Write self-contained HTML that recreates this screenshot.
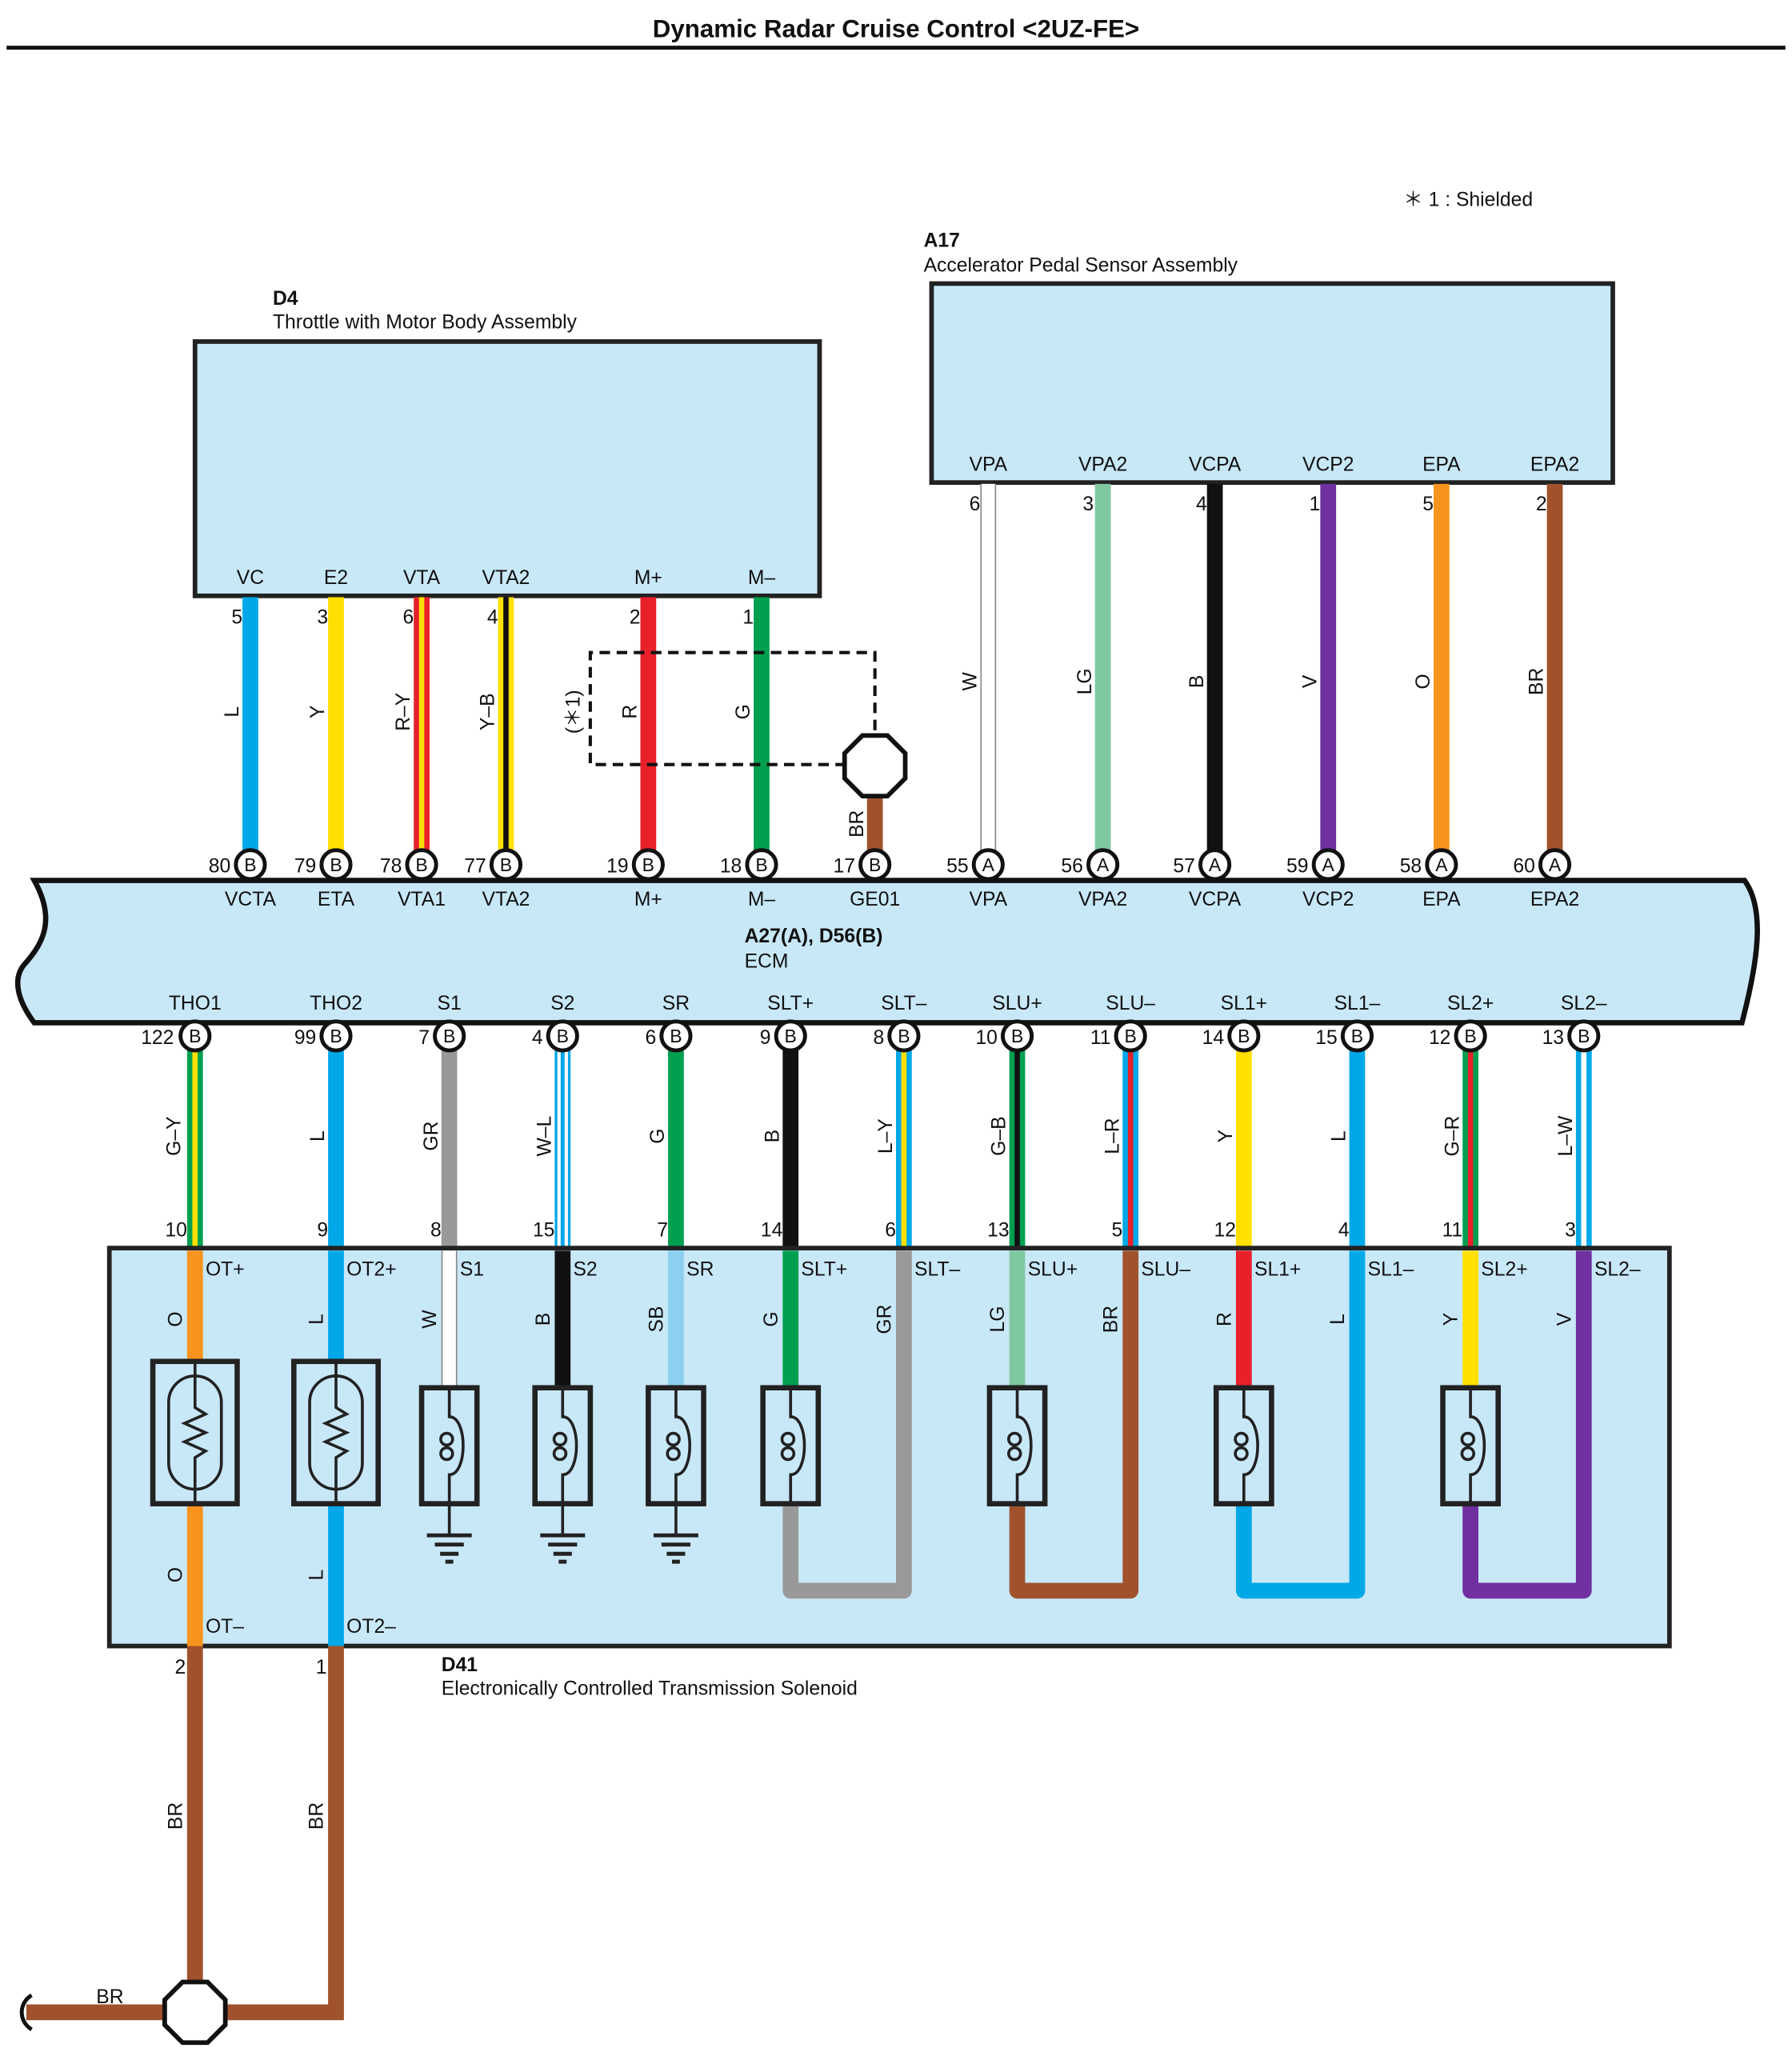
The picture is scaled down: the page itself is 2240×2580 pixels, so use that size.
<!DOCTYPE html>
<html><head><meta charset="utf-8"><style>
html,body{margin:0;padding:0;background:#fff}
svg{display:block}
text{font-family:"Liberation Sans",sans-serif;fill:#111}
</style></head><body>
<svg width="2240" height="2580" viewBox="0 0 1360 1566" xmlns="http://www.w3.org/2000/svg">
<defs>
<g id="sol">
<rect x="-21" y="0" width="42" height="88" fill="#c8e8f8" stroke="#222" stroke-width="4"/>
<path d="M0,0 V22 C14,22 14,66 0,66 V88" fill="none" stroke="#222" stroke-width="2.2"/>
<circle cx="-2" cy="39" r="4.5" fill="none" stroke="#222" stroke-width="2.2"/>
<circle cx="-2" cy="50" r="4.5" fill="none" stroke="#222" stroke-width="2.2"/>
</g>
<g id="gnd">
<line x1="0" y1="88" x2="0" y2="112" stroke="#222" stroke-width="2.2"/>
<line x1="-17" y1="112" x2="17" y2="112" stroke="#222" stroke-width="3"/>
<line x1="-11" y1="119" x2="11" y2="119" stroke="#222" stroke-width="3"/>
<line x1="-7" y1="126" x2="7" y2="126" stroke="#222" stroke-width="3"/>
<line x1="-3" y1="132" x2="3" y2="132" stroke="#222" stroke-width="3"/>
</g>
<g id="thm">
<rect x="-32" y="0" width="64" height="108" fill="#c8e8f8" stroke="#222" stroke-width="4"/>
<rect x="-20" y="11" width="40" height="86" rx="20" ry="20" fill="none" stroke="#222" stroke-width="2.2"/>
<path d="M0,0 V35 L8,40 L-8,47 L8,54 L-8,61 L8,68 L0,73 V108" fill="none" stroke="#222" stroke-width="2.2"/>
</g>
</defs>

<text x="680" y="28" text-anchor="middle" font-size="19" font-weight="bold">Dynamic Radar Cruise Control &lt;2UZ-FE&gt;</text>
<line x1="5" y1="36" x2="1355" y2="36" stroke="#111" stroke-width="3"/>
<text x="1065" y="156" font-size="15">＊ 1 : Shielded</text>

<!-- D4 -->
<text x="207" y="231" font-size="15" font-weight="bold">D4</text>
<text x="207" y="249" font-size="15">Throttle with Motor Body Assembly</text>
<rect x="148" y="259" width="474" height="193" fill="#c8e8f8" stroke="#222" stroke-width="3.5"/>
<g font-size="15" text-anchor="middle">
<text x="190" y="443">VC</text><text x="255" y="443">E2</text><text x="320" y="443">VTA</text><text x="384" y="443">VTA2</text><text x="492" y="443">M+</text><text x="578" y="443">M–</text>
</g>
<g font-size="15" text-anchor="end">
<text x="184" y="473">5</text><text x="249" y="473">3</text><text x="314" y="473">6</text><text x="378" y="473">4</text><text x="486" y="473">2</text><text x="572" y="473">1</text>
</g>
<!-- D4 wires -->
<g stroke-width="12">
<line x1="190" y1="453" x2="190" y2="650" stroke="#00a8e8"/>
<line x1="255" y1="453" x2="255" y2="650" stroke="#ffe000"/>
<line x1="320" y1="453" x2="320" y2="650" stroke="#e8202a"/>
<line x1="384" y1="453" x2="384" y2="650" stroke="#ffe000"/>
<line x1="492" y1="453" x2="492" y2="650" stroke="#e8202a"/>
<line x1="578" y1="453" x2="578" y2="650" stroke="#00a050"/>
</g>
<line x1="320" y1="453" x2="320" y2="650" stroke="#ffe000" stroke-width="4"/>
<line x1="384" y1="453" x2="384" y2="650" stroke="#111" stroke-width="4"/>
<g font-size="15" text-anchor="middle">
<text transform="translate(181,540) rotate(-90)">L</text>
<text transform="translate(246,540) rotate(-90)">Y</text>
<text transform="translate(311,540) rotate(-90)">R–Y</text>
<text transform="translate(375,540) rotate(-90)">Y–B</text>
<text transform="translate(483,540) rotate(-90)">R</text>
<text transform="translate(569,540) rotate(-90)">G</text>
<text transform="translate(440,540) rotate(-90)">(＊1)</text>
<text transform="translate(655,625) rotate(-90)">BR</text>
</g>
<path d="M642,580 H448 V495 H664 V558" fill="none" stroke="#111" stroke-width="2.5" stroke-dasharray="8,5"/>
<line x1="664" y1="600" x2="664" y2="650" stroke="#a0522d" stroke-width="12"/>
<polygon points="654.5,558 673.5,558 687,571.5 687,590.5 673.5,604 654.5,604 641,590.5 641,571.5" fill="#fff" stroke="#111" stroke-width="3.5"/>

<!-- A17 -->
<text x="701" y="187" font-size="15" font-weight="bold">A17</text>
<text x="701" y="206" font-size="15">Accelerator Pedal Sensor Assembly</text>
<rect x="707" y="215" width="517" height="151" fill="#c8e8f8" stroke="#222" stroke-width="3.5"/>
<g font-size="15" text-anchor="middle">
<text x="750" y="357">VPA</text><text x="837" y="357">VPA2</text><text x="922" y="357">VCPA</text><text x="1008" y="357">VCP2</text><text x="1094" y="357">EPA</text><text x="1180" y="357">EPA2</text>
</g>
<g font-size="15" text-anchor="end">
<text x="744" y="387">6</text><text x="830" y="387">3</text><text x="916" y="387">4</text><text x="1002" y="387">1</text><text x="1088" y="387">5</text><text x="1174" y="387">2</text>
</g>
<g stroke-width="12">
<line x1="750" y1="367" x2="750" y2="650" stroke="#888"/>
<line x1="837" y1="367" x2="837" y2="650" stroke="#80c8a0"/>
<line x1="922" y1="367" x2="922" y2="650" stroke="#111"/>
<line x1="1008" y1="367" x2="1008" y2="650" stroke="#7030a0"/>
<line x1="1094" y1="367" x2="1094" y2="650" stroke="#f7941d"/>
<line x1="1180" y1="367" x2="1180" y2="650" stroke="#a0522d"/>
</g>
<line x1="750" y1="367" x2="750" y2="650" stroke="#fff" stroke-width="10"/>
<g font-size="15" text-anchor="middle">
<text transform="translate(741,517) rotate(-90)">W</text>
<text transform="translate(828,517) rotate(-90)">LG</text>
<text transform="translate(913,517) rotate(-90)">B</text>
<text transform="translate(999,517) rotate(-90)">V</text>
<text transform="translate(1085,517) rotate(-90)">O</text>
<text transform="translate(1171,517) rotate(-90)">BR</text>
</g>

<!-- ECM -->
<path d="M26,668 H1324 C1340,690 1334,730 1322,776 H26 C14,760 8,742 20,730 C30,718 44,700 26,668 Z" fill="#c8e8f8" stroke="#111" stroke-width="4"/>
<g font-size="15" text-anchor="middle">
<text x="190" y="687">VCTA</text><text x="255" y="687">ETA</text><text x="320" y="687">VTA1</text><text x="384" y="687">VTA2</text><text x="492" y="687">M+</text><text x="578" y="687">M–</text><text x="664" y="687">GE01</text>
<text x="750" y="687">VPA</text><text x="837" y="687">VPA2</text><text x="922" y="687">VCPA</text><text x="1008" y="687">VCP2</text><text x="1094" y="687">EPA</text><text x="1180" y="687">EPA2</text>
<text x="148" y="766">THO1</text><text x="255" y="766">THO2</text><text x="341" y="766">S1</text><text x="427" y="766">S2</text><text x="513" y="766">SR</text><text x="600" y="766">SLT+</text><text x="686" y="766">SLT–</text><text x="772" y="766">SLU+</text><text x="858" y="766">SLU–</text><text x="944" y="766">SL1+</text><text x="1030" y="766">SL1–</text><text x="1116" y="766">SL2+</text><text x="1202" y="766">SL2–</text>
</g>
<text x="565" y="715" font-size="15" font-weight="bold">A27(A), D56(B)</text>
<text x="565" y="734" font-size="15">ECM</text>

<!-- ECM bottom wires -->
<g stroke-width="12">
<line x1="148" y1="790" x2="148" y2="1033" stroke="#00a050"/>
<line x1="255" y1="790" x2="255" y2="1033" stroke="#00a8e8"/>
<line x1="341" y1="790" x2="341" y2="947" stroke="#999"/>
<line x1="427" y1="790" x2="427" y2="947" stroke="#00a8e8"/>
<line x1="513" y1="790" x2="513" y2="947" stroke="#00a050"/>
<line x1="600" y1="790" x2="600" y2="947" stroke="#111"/>
<line x1="686" y1="790" x2="686" y2="947" stroke="#00a8e8"/>
<line x1="772" y1="790" x2="772" y2="947" stroke="#00a050"/>
<line x1="858" y1="790" x2="858" y2="947" stroke="#00a8e8"/>
<line x1="944" y1="790" x2="944" y2="947" stroke="#ffe000"/>
<line x1="1030" y1="790" x2="1030" y2="947" stroke="#00a8e8"/>
<line x1="1116" y1="790" x2="1116" y2="947" stroke="#00a050"/>
<line x1="1202" y1="790" x2="1202" y2="947" stroke="#00a8e8"/>
</g>
<line x1="427" y1="790" x2="427" y2="947" stroke="#fff" stroke-width="8"/>
<line x1="427" y1="790" x2="427" y2="947" stroke="#00a8e8" stroke-width="3"/>
<g stroke-width="4">
<line x1="148" y1="790" x2="148" y2="947" stroke="#ffe000"/>
<line x1="686" y1="790" x2="686" y2="947" stroke="#ffe000"/>
<line x1="772" y1="790" x2="772" y2="947" stroke="#111"/>
<line x1="858" y1="790" x2="858" y2="947" stroke="#e8202a"/>
<line x1="1116" y1="790" x2="1116" y2="947" stroke="#e8202a"/>
<line x1="1202" y1="790" x2="1202" y2="947" stroke="#fff"/>
</g>
<g font-size="15" text-anchor="middle">
<text transform="translate(137,862) rotate(-90)">G–Y</text>
<text transform="translate(246,862) rotate(-90)">L</text>
<text transform="translate(332,862) rotate(-90)">GR</text>
<text transform="translate(418,862) rotate(-90)">W–L</text>
<text transform="translate(504,862) rotate(-90)">G</text>
<text transform="translate(591,862) rotate(-90)">B</text>
<text transform="translate(677,862) rotate(-90)">L–Y</text>
<text transform="translate(763,862) rotate(-90)">G–B</text>
<text transform="translate(849,862) rotate(-90)">L–R</text>
<text transform="translate(935,862) rotate(-90)">Y</text>
<text transform="translate(1021,862) rotate(-90)">L</text>
<text transform="translate(1107,862) rotate(-90)">G–R</text>
<text transform="translate(1193,862) rotate(-90)">L–W</text>
</g>
<g font-size="15" text-anchor="end">
<text x="142" y="938">10</text><text x="249" y="938">9</text><text x="335" y="938">8</text><text x="421" y="938">15</text><text x="507" y="938">7</text><text x="594" y="938">14</text><text x="680" y="938">6</text><text x="766" y="938">13</text><text x="852" y="938">5</text><text x="938" y="938">12</text><text x="1024" y="938">4</text><text x="1110" y="938">11</text><text x="1196" y="938">3</text>
</g>

<!-- connector circles -->
<g fill="#fff" stroke="#111" stroke-width="3">
<circle cx="190" cy="656" r="11"/><circle cx="255" cy="656" r="11"/><circle cx="320" cy="656" r="11"/><circle cx="384" cy="656" r="11"/><circle cx="492" cy="656" r="11"/><circle cx="578" cy="656" r="11"/><circle cx="664" cy="656" r="11"/>
<circle cx="750" cy="656" r="11"/><circle cx="837" cy="656" r="11"/><circle cx="922" cy="656" r="11"/><circle cx="1008" cy="656" r="11"/><circle cx="1094" cy="656" r="11"/><circle cx="1180" cy="656" r="11"/>
<circle cx="148" cy="786" r="11"/><circle cx="255" cy="786" r="11"/><circle cx="341" cy="786" r="11"/><circle cx="427" cy="786" r="11"/><circle cx="513" cy="786" r="11"/><circle cx="600" cy="786" r="11"/><circle cx="686" cy="786" r="11"/><circle cx="772" cy="786" r="11"/><circle cx="858" cy="786" r="11"/><circle cx="944" cy="786" r="11"/><circle cx="1030" cy="786" r="11"/><circle cx="1116" cy="786" r="11"/><circle cx="1202" cy="786" r="11"/>
</g>
<g font-size="14" text-anchor="middle">
<text x="190" y="661">B</text><text x="255" y="661">B</text><text x="320" y="661">B</text><text x="384" y="661">B</text><text x="492" y="661">B</text><text x="578" y="661">B</text><text x="664" y="661">B</text>
<text x="750" y="661">A</text><text x="837" y="661">A</text><text x="922" y="661">A</text><text x="1008" y="661">A</text><text x="1094" y="661">A</text><text x="1180" y="661">A</text>
<text x="148" y="791">B</text><text x="255" y="791">B</text><text x="341" y="791">B</text><text x="427" y="791">B</text><text x="513" y="791">B</text><text x="600" y="791">B</text><text x="686" y="791">B</text><text x="772" y="791">B</text><text x="858" y="791">B</text><text x="944" y="791">B</text><text x="1030" y="791">B</text><text x="1116" y="791">B</text><text x="1202" y="791">B</text>
</g>
<g font-size="15" text-anchor="end">
<text x="175" y="662">80</text><text x="240" y="662">79</text><text x="305" y="662">78</text><text x="369" y="662">77</text><text x="477" y="662">19</text><text x="563" y="662">18</text><text x="649" y="662">17</text>
<text x="735" y="662">55</text><text x="822" y="662">56</text><text x="907" y="662">57</text><text x="993" y="662">59</text><text x="1079" y="662">58</text><text x="1165" y="662">60</text>
<text x="132" y="792">122</text><text x="240" y="792">99</text><text x="326" y="792">7</text><text x="412" y="792">4</text><text x="498" y="792">6</text><text x="585" y="792">9</text><text x="671" y="792">8</text><text x="757" y="792">10</text><text x="843" y="792">11</text><text x="929" y="792">14</text><text x="1015" y="792">15</text><text x="1101" y="792">12</text><text x="1187" y="792">13</text>
</g>

<!-- D41 box -->
<rect x="83" y="947" width="1184" height="302" fill="#c8e8f8" stroke="#222" stroke-width="3.5"/>
<!-- external brown -->
<path d="M148,1249 V1527 M255,1249 V1527 H20" fill="none" stroke="#a0522d" stroke-width="12"/>
<path d="M24,1514 C14,1520 14,1534 24,1540" fill="none" stroke="#111" stroke-width="3"/>
<!-- internal wires -->
<g stroke-width="12" fill="none">
<line x1="148" y1="949" x2="148" y2="1033" stroke="#f7941d"/>
<line x1="148" y1="1141" x2="148" y2="1249" stroke="#f7941d"/>
<line x1="255" y1="949" x2="255" y2="1033" stroke="#00a8e8"/>
<line x1="255" y1="1141" x2="255" y2="1249" stroke="#00a8e8"/>
<line x1="341" y1="949" x2="341" y2="1053" stroke="#888"/>
<line x1="427" y1="949" x2="427" y2="1053" stroke="#111"/>
<line x1="513" y1="949" x2="513" y2="1053" stroke="#8cd0f0"/>
<line x1="600" y1="949" x2="600" y2="1053" stroke="#00a050"/>
<path d="M600,1141 V1207 H686 V949" stroke="#999" stroke-linejoin="round"/>
<line x1="772" y1="949" x2="772" y2="1053" stroke="#80c8a0"/>
<path d="M772,1141 V1207 H858 V949" stroke="#a0522d" stroke-linejoin="round"/>
<line x1="944" y1="949" x2="944" y2="1053" stroke="#e8202a"/>
<path d="M944,1141 V1207 H1030 V949" stroke="#00a8e8" stroke-linejoin="round"/>
<line x1="1116" y1="949" x2="1116" y2="1053" stroke="#ffe000"/>
<path d="M1116,1141 V1207 H1202 V949" stroke="#7030a0" stroke-linejoin="round"/>
</g>
<line x1="341" y1="949" x2="341" y2="1053" stroke="#fff" stroke-width="10"/>
<polygon points="138.5,1504 157.5,1504 171,1517.5 171,1536.5 157.5,1550 138.5,1550 125,1536.5 125,1517.5" fill="#fff" stroke="#111" stroke-width="3.5"/>
<use href="#thm" x="148" y="1033"/>
<use href="#thm" x="255" y="1033"/>
<use href="#sol" x="341" y="1053"/><use href="#gnd" x="341" y="1053"/>
<use href="#sol" x="427" y="1053"/><use href="#gnd" x="427" y="1053"/>
<use href="#sol" x="513" y="1053"/><use href="#gnd" x="513" y="1053"/>
<use href="#sol" x="600" y="1053"/>
<use href="#sol" x="772" y="1053"/>
<use href="#sol" x="944" y="1053"/>
<use href="#sol" x="1116" y="1053"/>
<g font-size="15">
<text x="156" y="968">OT+</text><text x="263" y="968">OT2+</text><text x="349" y="968">S1</text><text x="435" y="968">S2</text><text x="521" y="968">SR</text><text x="608" y="968">SLT+</text><text x="694" y="968">SLT–</text><text x="780" y="968">SLU+</text><text x="866" y="968">SLU–</text><text x="952" y="968">SL1+</text><text x="1038" y="968">SL1–</text><text x="1124" y="968">SL2+</text><text x="1210" y="968">SL2–</text>
<text x="156" y="1239">OT–</text><text x="263" y="1239">OT2–</text>
</g>
<g font-size="15" text-anchor="middle">
<text transform="translate(138,1001) rotate(-90)">O</text>
<text transform="translate(245,1001) rotate(-90)">L</text>
<text transform="translate(331,1001) rotate(-90)">W</text>
<text transform="translate(417,1001) rotate(-90)">B</text>
<text transform="translate(503,1001) rotate(-90)">SB</text>
<text transform="translate(590,1001) rotate(-90)">G</text>
<text transform="translate(676,1001) rotate(-90)">GR</text>
<text transform="translate(762,1001) rotate(-90)">LG</text>
<text transform="translate(848,1001) rotate(-90)">BR</text>
<text transform="translate(934,1001) rotate(-90)">R</text>
<text transform="translate(1020,1001) rotate(-90)">L</text>
<text transform="translate(1106,1001) rotate(-90)">Y</text>
<text transform="translate(1192,1001) rotate(-90)">V</text>
<text transform="translate(138,1195) rotate(-90)">O</text>
<text transform="translate(245,1195) rotate(-90)">L</text>
<text transform="translate(138,1378) rotate(-90)">BR</text>
<text transform="translate(245,1378) rotate(-90)">BR</text>
</g>
<g font-size="15" text-anchor="end">
<text x="141" y="1270">2</text><text x="248" y="1270">1</text>
</g>
<text x="73" y="1520" font-size="15">BR</text>
<text x="335" y="1268" font-size="15" font-weight="bold">D41</text>
<text x="335" y="1286" font-size="15">Electronically Controlled Transmission Solenoid</text>
</svg>
</body></html>
